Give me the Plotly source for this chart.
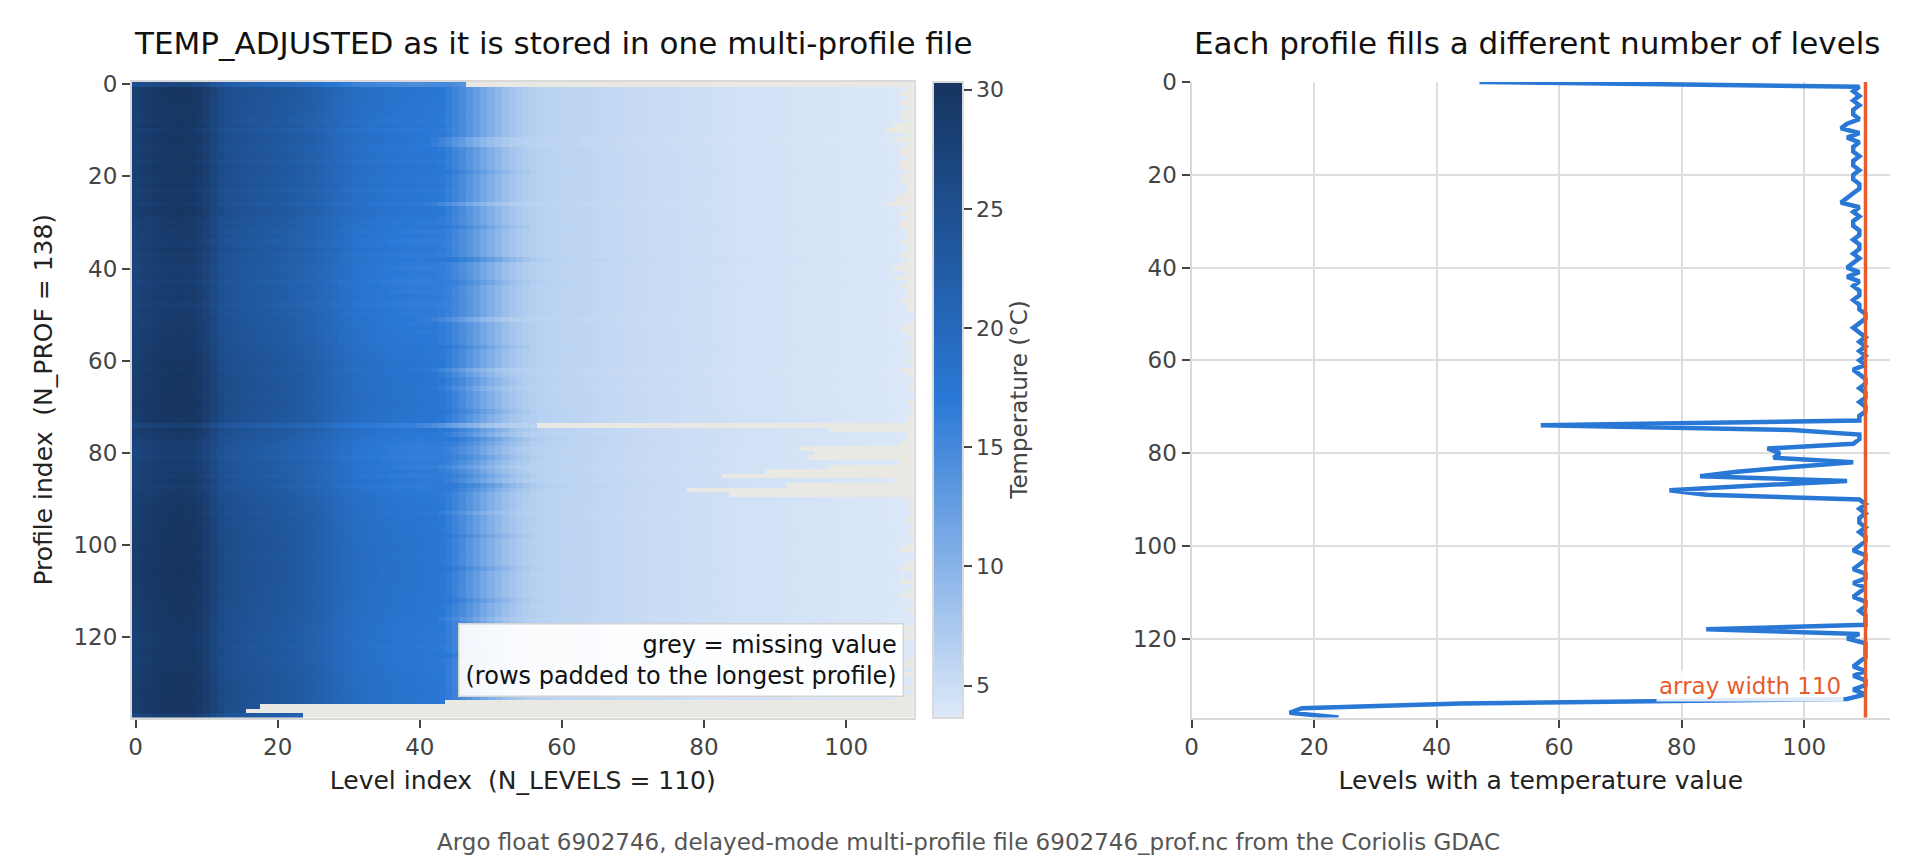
import numpy as np
import plotly.graph_objects as go

# Argo float 6902746, TEMP_ADJUSTED (N_PROF x N_LEVELS)
N_PROF = 138
N_LEVELS = 110

profile_index = list(range(N_PROF))
level_index = list(range(N_LEVELS))

# number of levels holding a temperature value, one per profile
levels_filled = [
    47, 109, 108, 109, 108, 109, 108, 108, 109, 107,
    106, 109, 107, 109, 108, 108, 109, 108, 108, 109,
    108, 108, 109, 109, 108, 107, 106, 109, 108, 109,
    108, 108, 109, 109, 108, 109, 109, 108, 109, 108,
    107, 109, 107, 109, 108, 109, 109, 108, 109, 109,
    110, 110, 109, 108, 109, 110, 109, 110, 109, 110,
    109, 110, 108, 109, 110, 110, 109, 110, 110, 109,
    110, 110, 109, 109, 57, 98, 109, 109, 108, 94,
    96, 95, 108, 98, 89, 83, 107, 92, 78, 84,
    109, 110, 109, 110, 109, 109, 110, 109, 110, 110,
    109, 108, 110, 110, 109, 108, 110, 110, 108, 110,
    109, 108, 110, 110, 109, 110, 110, 110, 84, 109,
    107, 110, 110, 110, 110, 109, 108, 110, 108, 110,
    110, 108, 110, 107, 44, 18, 16, 24,
]

# typical temperature (degC) at each level index
base_temp = [
    28.0, 28.5, 28.9, 29.3, 29.5, 29.6, 29.7, 29.7, 29.5, 29.0,
    28.0, 26.9, 25.8, 25.1, 24.7, 24.4, 24.1, 23.9, 23.7, 23.5,
    23.3, 23.0, 22.7, 22.4, 22.1, 21.7, 21.3, 20.8, 20.3, 19.8,
    19.3, 18.9, 18.6, 18.4, 18.2, 18.0, 17.8, 17.7, 17.6, 17.5,
    17.4, 17.3, 17.2, 16.9, 16.3, 15.5, 14.6, 13.6, 12.6, 11.5,
    10.4, 9.5, 8.6, 7.9, 7.3, 6.9, 6.6, 6.4, 6.3, 6.2,
    6.1, 6.0, 5.95, 5.9, 5.8, 5.7, 5.6, 5.5, 5.45, 5.4,
    5.3, 5.25, 5.2, 5.1, 5.05, 5.0, 4.95, 4.9, 4.85, 4.8,
    4.75, 4.7, 4.65, 4.6, 4.55, 4.5, 4.5, 4.45, 4.4, 4.4,
    4.35, 4.3, 4.3, 4.25, 4.2, 4.2, 4.15, 4.1, 4.1, 4.05,
    4.0, 4.0, 3.95, 3.9, 3.9, 3.85, 3.8, 3.75, 3.7, 3.66,
]

# warm / cool anomaly of the upper layer for each profile (degC)
row_offset = [
    -3.0, 0.3, 0.4, 0.2, 0.3, 0.1, 0.3, 0.0, -0.2, 0.2,
    -0.4, 0.1, 0.3, 0.0, -0.3, 0.2, 0.0, -0.2, 0.3, 0.0,
    0.1, -0.2, 0.2, -0.4, 0.0, 0.1, -0.5, 0.0, 0.2, -0.3,
    -0.6, -0.3, -0.8, -0.5, -1.0, -0.7, -0.4, -0.9, -0.6, -0.8,
    -1.1, -0.7, -0.9, -1.2, -0.8, -1.0, -0.6, -0.9, -1.1, -0.7,
    -0.8, -0.5, -0.7, -0.3, -0.6, -0.2, -0.4, 0.0, -0.1, 0.1,
    0.2, 0.4, 0.1, 0.4, 0.5, 0.3, 0.5, 0.6, 0.4, 0.5,
    0.6, 0.4, 0.5, 0.3, -1.5, 0.0, -0.3, -0.6, -0.9, -1.2,
    -1.0, -1.3, -0.8, -1.1, -0.7, -1.0, -0.5, -0.9, -0.6, -0.3,
    -0.1, 0.1, 0.2, 0.0, 0.3, 0.4, 0.2, 0.5, 0.3, 0.5,
    0.5, 0.6, 0.4, 0.6, 0.5, 0.6, 0.6, 0.5, 0.6, 0.5,
    0.4, 0.6, 0.3, 0.5, 0.2, 0.4, 0.1, 0.2, 0.0, 0.1,
    -0.1, 0.1, -0.2, 0.0, 0.2, -0.1, 0.3, 0.1, 0.4, 0.2,
    0.5, 0.3, 0.6, 0.4, 0.5, 0.4, 0.6, -1.0,
]

# thermocline displaced up (-) or down (+) by this many levels
thermo_shift = [
    0, 0, 0, 0, 0, 0, 0, 0, 0, 0,
    0, 0, -2, -2, 0, 0, 0, 0, 0, 1,
    0, 0, 0, 0, 0, 0, -2, 0, 0, 0,
    0, 1, 0, 0, 0, 0, 0, 0, 2, 0,
    0, 0, 0, 1, 0, 0, 0, 0, 0, 0,
    0, -2, 0, 0, 0, 0, 0, 1, 0, 0,
    0, 0, -2, -1, 0, 0, -1, 0, 0, 0,
    0, 1, 0, 0, -3, 1, 0, 2, 1, 0,
    0, 1, 0, -1, 0, 1, 0, 2, 1, 0,
    0, 0, 0, -1, 0, 0, 0, 0, 1, 0,
    0, 0, 0, 0, 0, 1, 0, 0, 0, 0,
    0, 0, 1, 0, 0, 0, -1, 0, 0, 0,
    0, 0, 0, 0, 1, 0, 0, 0, 0, 0,
    0, 0, 0, 0, 0, 0, 0, 0,
]
THERMO_TOP = 40     # anomaly fades out between these two levels
THERMO_BOTTOM = 48
T_MIN, T_MAX = 3.66, 30.34

# build the padded 2-D array: NaN past the last filled level
temp = np.full((N_PROF, N_LEVELS), np.nan)
for p in range(N_PROF):
    for lev in range(levels_filled[p]):
        src = lev
        if lev >= THERMO_TOP:
            src = min(max(lev - thermo_shift[p], THERMO_TOP), N_LEVELS - 1)
        if lev < THERMO_TOP:
            weight = 1.0
        elif lev < THERMO_BOTTOM:
            weight = (THERMO_BOTTOM - lev) / (THERMO_BOTTOM - THERMO_TOP)
        else:
            weight = 0.0
        temp[p, lev] = base_temp[src] + row_offset[p] * weight

FONT = "DejaVu Sans"
W, H = 1920, 860
# plot areas in pixels (figure coordinates)
HX0, HX1 = 124, 905.6
RX0, RX1 = 1183.5, 1882
PY0, PY1 = 74, 709.5
CBX = 925
ydom = [1 - PY1 / H, 1 - PY0 / H]

fig = go.Figure()

fig.add_trace(go.Heatmap(
    z=temp, x=level_index, y=profile_index,
    colorscale=[[0, "#dce8f8"], [0.5, "#2a78d6"], [1, "#16345f"]],
    zmin=T_MIN, zmax=T_MAX,
    hoverongaps=False,
    colorbar=dict(
        x=CBX / W, xanchor="left", xpad=0,
        y=ydom[0], yanchor="bottom", ypad=0,
        len=ydom[1] - ydom[0], lenmode="fraction",
        thickness=30, outlinecolor="#d9d9d9", outlinewidth=2,
        ticks="outside", ticklen=8, tickwidth=2, tickcolor="#444",
        tick0=5, dtick=5,
        tickfont=dict(family=FONT, size=22, color="#444"),
        title=dict(text="Temperature (°C)", side="right",
                   font=dict(family=FONT, size=23, color="#444")),
    ),
    xaxis="x", yaxis="y",
))

fig.add_trace(go.Scatter(
    x=levels_filled, y=profile_index, mode="lines",
    line=dict(color="#2a78d6", width=4.5),
    showlegend=False, xaxis="x2", yaxis="y2",
))

# grey background = missing values in the heatmap
fig.add_shape(type="rect", xref="x domain", yref="y domain",
              x0=0, x1=1, y0=0, y1=1, fillcolor="#eae8e2",
              line=dict(width=0), layer="below")
# array width marker
fig.add_shape(type="line", xref="x2", yref="y2 domain",
              x0=N_LEVELS, x1=N_LEVELS, y0=0, y1=1,
              line=dict(color="#e65c2c", width=3.5), layer="above")

tick_common = dict(ticks="outside", ticklen=8, tickwidth=2, tickcolor="#444",
                   tickfont=dict(family=FONT, size=23, color="#444"),
                   automargin=False)
title_font = dict(family=FONT, size=25, color="#222")

fig.update_layout(
    width=W, height=H,
    margin=dict(l=0, r=0, t=0, b=0, autoexpand=False),
    paper_bgcolor="white", plot_bgcolor="white",
    font=dict(family=FONT, size=23, color="#222"),
    showlegend=False,
    xaxis=dict(domain=[HX0 / W, HX1 / W], range=[-0.5, N_LEVELS - 0.5],
               tick0=0, dtick=20, showgrid=False, zeroline=False,
               showline=True, mirror=True, linecolor="#d9d9d9", linewidth=2,
               title=dict(text=f"Level index\u00a0 (N_LEVELS = {N_LEVELS})",
                          font=title_font, standoff=12),
               anchor="y", **tick_common),
    yaxis=dict(domain=ydom, range=[N_PROF - 0.5, -0.5],
               tick0=0, dtick=20, showgrid=False, zeroline=False,
               showline=True, mirror=True, linecolor="#d9d9d9", linewidth=2,
               title=dict(text=f"Profile index\u00a0 (N_PROF = {N_PROF})",
                          font=title_font, standoff=14),
               anchor="x", **tick_common),
    xaxis2=dict(domain=[RX0 / W, RX1 / W], range=[0, 114],
                tick0=0, dtick=20, showgrid=True, gridcolor="#dedede",
                gridwidth=1.8, zeroline=False,
                showline=True, linecolor="#d9d9d9", linewidth=2,
                title=dict(text="Levels with a temperature value",
                           font=title_font, standoff=12),
                anchor="y2", **tick_common),
    yaxis2=dict(domain=ydom, range=[N_PROF - 1, 0],
                tick0=0, dtick=20, showgrid=True, gridcolor="#dedede",
                gridwidth=1.8, zeroline=False,
                showline=True, linecolor="#d9d9d9", linewidth=2,
                anchor="x2", **tick_common),
)

fig.add_annotation(text="TEMP_ADJUSTED as it is stored in one multi-profile file",
                   xref="paper", yref="paper", x=HX0 / W, y=1 - 35 / H,
                   xanchor="left", yanchor="middle", showarrow=False,
                   font=dict(family=FONT, size=31, color="#111"))
fig.add_annotation(text="Each profile fills a different number of levels",
                   xref="paper", yref="paper", x=RX0 / W, y=1 - 35 / H,
                   xanchor="left", yanchor="middle", showarrow=False,
                   font=dict(family=FONT, size=31, color="#111"))
fig.add_annotation(text="grey = missing value<br>(rows padded to the longest profile)",
                   xref="x domain", yref="y domain", x=0.988, y=0.033,
                   xanchor="right", yanchor="bottom", align="right",
                   showarrow=False, bgcolor="rgba(255,255,255,0.93)",
                   bordercolor="#d4d4d4", borderwidth=1.5, borderpad=6,
                   font=dict(family=FONT, size=24, color="#111"))
fig.add_annotation(text=f"array width {N_LEVELS}",
                   xref="x2", yref="y2 domain", x=N_LEVELS, y=0.024,
                   xanchor="right", yanchor="bottom", xshift=-21,
                   showarrow=False, bgcolor="rgba(255,255,255,0.85)",
                   borderpad=2,
                   font=dict(family=FONT, size=23, color="#e65c2c"))
fig.add_annotation(text="Argo float 6902746, delayed-mode multi-profile file "
                        "6902746_prof.nc from the Coriolis GDAC",
                   xref="paper", yref="paper", x=0.5, y=1 - 834 / H,
                   xanchor="center", yanchor="middle", showarrow=False,
                   font=dict(family=FONT, size=23, color="#555"))

fig.write_html("out.html")
